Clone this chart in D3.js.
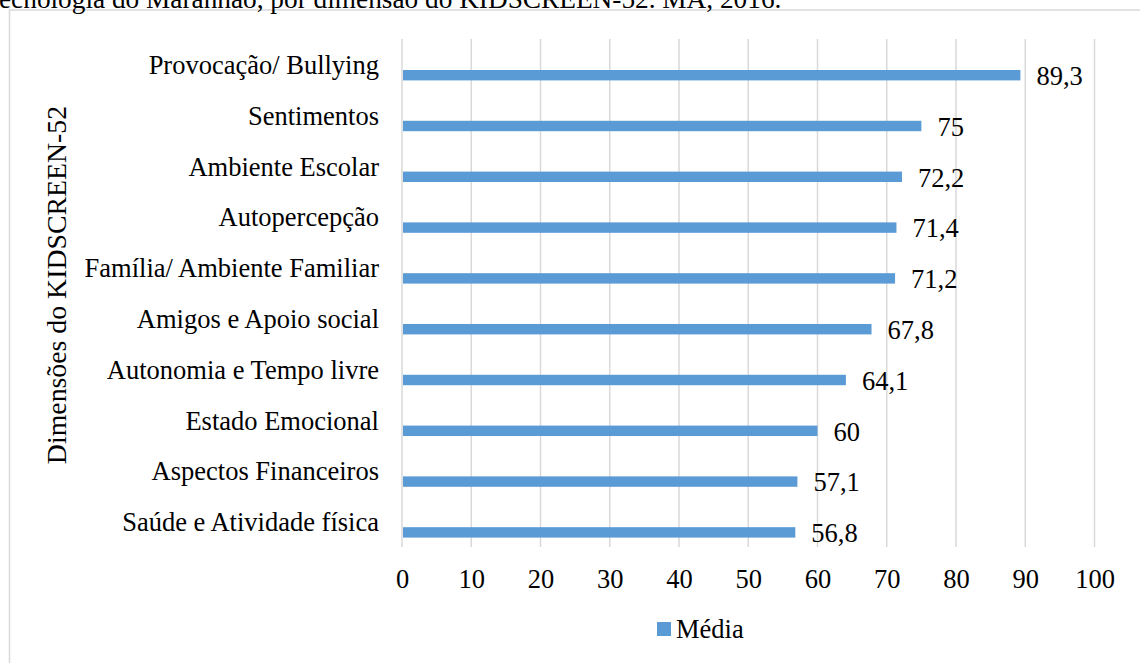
<!DOCTYPE html>
<html><head><meta charset="utf-8">
<script src="https://cdn.jsdelivr.net/npm/d3@7"></script>
<style>html,body{margin:0;padding:0;background:#fff;overflow:hidden}</style>
</head><body>
<svg id="c" width="1140" height="663"></svg>
<script>
const categories = ["Provocação/ Bullying","Sentimentos","Ambiente Escolar","Autopercepção","Família/ Ambiente Familiar","Amigos e Apoio social","Autonomia e Tempo livre","Estado Emocional","Aspectos Financeiros","Saúde e Atividade física"];
const values = [89.3,75,72.2,71.4,71.2,67.8,64.1,60,57.1,56.8];
const valueLabels = ["89,3","75","72,2","71,4","71,2","67,8","64,1","60","57,1","56,8"];
const xTicks = [0,10,20,30,40,50,60,70,80,90,100];
const seriesName = "Média";
const axisTitle = "Dimensões do KIDSCREEN-52";
const caption = "ecnologia do Maranhão, por dimensão do KIDSCREEN-52. MA, 2016.";

const svg = d3.select("#c");
const font = "'Liberation Serif','Times New Roman',serif";
const fs = 26.5;
const color = "#5b9bd5";
const grid = "#d9d9d9";

// frame
svg.append("rect").attr("x",9.5).attr("y",10).attr("width",1300).attr("height",1000)
  .attr("fill","none").attr("stroke",grid).attr("stroke-width",1.5);
// caption (cut at top)
svg.append("text").attr("x",-1).attr("y",8).attr("font-family",font).attr("font-size",27.3)
  .attr("fill","#000").text(caption);

const x = d3.scaleLinear().domain([0,100]).range([402,1094.5]);
const y = d3.scaleBand().domain(categories).range([39,547]);

// gridlines
svg.append("g").selectAll("line").data(xTicks).join("line")
  .attr("x1",d=>x(d)).attr("x2",d=>x(d)).attr("y1",39).attr("y2",547)
  .attr("stroke",grid).attr("stroke-width",1.5);

// x axis labels
const xa = svg.append("g").attr("transform","translate(0,547)")
  .call(d3.axisBottom(x).tickValues(xTicks).tickSize(0).tickPadding(0).tickFormat(d=>d));
xa.select(".domain").remove();
xa.selectAll("text").attr("font-family",font).attr("font-size",fs).attr("fill","#000")
  .attr("dy",null).attr("y",41);

// y axis labels
const ya = svg.append("g").attr("transform","translate(379,0)")
  .call(d3.axisLeft(y).tickSize(0).tickPadding(0));
ya.select(".domain").remove();
ya.selectAll("text").attr("font-family",font).attr("font-size",fs).attr("fill","#000")
  .attr("dy",null).attr("y",9.5);

// bars
const bh = y.bandwidth();
svg.append("g").selectAll("rect").data(values).join("rect")
  .attr("x",x(0)+1).attr("y",(d,i)=>y(categories[i])+bh*0.61)
  .attr("width",d=>x(d)-x(0)-1).attr("height",bh*0.205).attr("fill",color);

// value labels
svg.append("g").selectAll("text").data(values).join("text")
  .attr("x",d=>x(d)+16).attr("y",(d,i)=>y(categories[i])+bh*0.61+bh*0.1+10)
  .attr("font-family",font).attr("font-size",fs).attr("fill","#000")
  .text((d,i)=>valueLabels[i]);

// axis title
svg.append("text").attr("transform","translate(66,285) rotate(-90)").attr("text-anchor","middle")
  .attr("font-family",font).attr("font-size",27.8).attr("fill","#000").text(axisTitle);

// legend
svg.append("rect").attr("x",657).attr("y",622).attr("width",14).attr("height",14).attr("fill",color);
svg.append("text").attr("x",676).attr("y",638).attr("font-family",font).attr("font-size",fs)
  .attr("fill","#000").text(seriesName);
</script>
</body></html>
